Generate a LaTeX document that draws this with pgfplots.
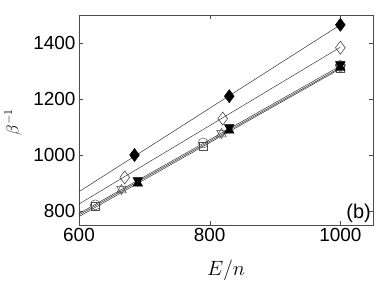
\documentclass[border=0pt]{standalone}
\usepackage{pgfplots}
\pgfplotsset{compat=1.18}
\usepackage{fontspec}
\setmainfont{Liberation Sans}
\begin{document}
\begin{tikzpicture}
\begin{axis}[
  scale only axis, width=294bp, height=210bp,
  xmin=600, xmax=1050, ymin=750, ymax=1500,
  xtick={600,800,1000}, ytick={800,1000,1200,1400},
  tick align=inside, ticks=both, tick pos=both,
  major tick length=4bp,
  axis line style={black!70},
  tick style={black!70},
  /pgf/number format/assume math mode=true,
  /pgf/number format/1000 sep={},
  tick label style={font=\fontsize{19}{22}\selectfont},
  xlabel={$E/n$},
  every axis x label/.style={at={(rel axis cs:0.5,-0.215)}, anchor=center, font=\fontsize{20}{22}\selectfont},
  every axis plot/.append style={line width=0.5pt},
]
\coordinate (sw) at (rel axis cs:0,0);
% fitted lines
\addplot[black!80, no marks] coordinates {(600,869) (1000,1465)};
\addplot[black!80, no marks] coordinates {(600,825) (1000,1385)};
\addplot[black!80, no marks] coordinates {(600,791) (1000,1318)};
\addplot[black!80, no marks] coordinates {(600,786) (1000,1312)};
\addplot[black!80, no marks] coordinates {(600,780) (1000,1308)};
% filled diamonds
\addplot[only marks, mark=diamond*, mark size=6.5bp, black, mark options={fill=black}] coordinates {(685,1000) (830,1210) (1000,1465)};
% open diamonds
\addplot[only marks, mark=diamond, mark size=6.5bp, black!80] coordinates {(670,920) (820,1130) (1000,1383)};
% open triangles up/down
\addplot[only marks, mark=triangle, mark size=5.5bp, black!70] coordinates {(665,875) (818,1075) (1000,1310)};
\addplot[only marks, mark=triangle, mark size=5.5bp, black!70, mark options={rotate=180}] coordinates {(665,878) (818,1078) (1000,1313)};
% circles and squares
\addplot[only marks, mark=o, mark size=5bp, black!70] coordinates {(625,822) (790,1043) (1000,1320)};
\addplot[only marks, mark=square, mark size=4bp, black!70] coordinates {(625,816) (790,1033) (1000,1310)};
% filled hourglass
\addplot[only marks, mark=triangle*, mark size=5.5bp, black, mark options={fill=black, yshift=-1.5bp}] coordinates {(690,904) (830,1093) (1000,1318)};
\addplot[only marks, mark=triangle*, mark size=5.5bp, black, mark options={fill=black, rotate=180, yshift=-1.5bp}] coordinates {(690,904) (830,1093) (1000,1318)};
\node[anchor=south east, font=\fontsize{20}{22}\selectfont, inner sep=2bp] at (rel axis cs:1,0) {(b)};
\end{axis}
\node[rotate=90, anchor=center, inner sep=0pt, font=\fontsize{18}{20}\selectfont] at ([shift={(-66bp,103bp)}]sw) {$\beta^{-1}$};
\path ([shift={(-79bp,-62bp)}]sw) rectangle ([shift={(303bp,225bp)}]sw);
\end{tikzpicture}
\end{document}
